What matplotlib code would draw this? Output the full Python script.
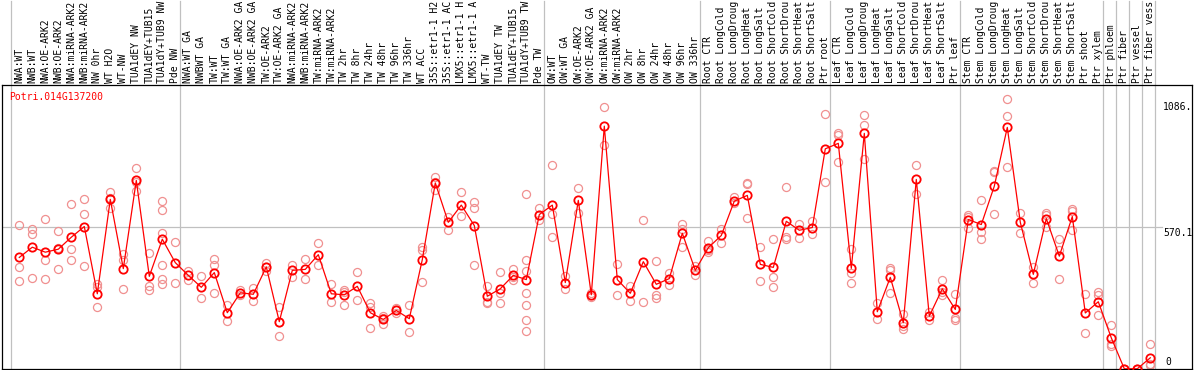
import matplotlib
matplotlib.use("Agg")
import matplotlib.pyplot as plt
import matplotlib.transforms as mtransforms

# sample labels (as shown, cut at the top edge)
labels = [
    "NWA:WT", "NWB:WT", "NWA:OE-ARK2", "NWB:OE-ARK2", "NWA:miRNA-ARK2", "NWB:miRNA-ARK2",
    "NW 0hr", "WT H2O", "WT-NW", "TUA1dEY NW", "TUA1dEY+TUB15", "TUA1dY+TUB9 NW", "Pde NW",
    "NWA:WT GA", "NWBWT GA", "TW:WT", "TW:WT GA", "NWA:OE-ARK2 GA", "NWB:OE-ARK2 GA",
    "TW:OE-ARK2", "TW:OE-ARK2 GA", "NWA:miRNA-ARK2", "NWB:miRNA-ARK2", "TW:miRNA-ARK2",
    "TW:miRNA-ARK2", "TW 2hr", "TW 8hr", "TW 24hr", "TW 48hr", "TW 96hr", "TW 336hr",
    "WT ACC", "35S::etr1-1 H2", "35S::etr1-1 AC", "LMX5::etr1-1 H", "LMX5::etr1-1 A",
    "WT-TW", "TUA1dEY TW", "TUA1dEY+TUB15", "TUA1dY+TUB9 TW", "Pde TW",
    "OW:WT", "OW:WT GA", "OW:OE-ARK2", "OW:OE-ARK2 GA", "OW:miRNA-ARK2", "OW:miRNA-ARK2",
    "OW 2hr", "OW 8hr", "OW 24hr", "OW 48hr", "OW 96hr", "OW 336hr",
    "Root CTR", "Root LongCold", "Root LongDroug", "Root LongHeat", "Root LongSalt",
    "Root ShortCold", "Root ShortDrou", "Root ShortHeat", "Root ShortSalt", "Ptr root",
    "Leaf CTR", "Leaf LongCold", "Leaf LongDroug", "Leaf LongHeat", "Leaf LongSalt",
    "Leaf ShortCold", "Leaf ShortDrou", "Leaf ShortHeat", "Leaf ShortSalt", "Ptr leaf",
    "Stem CTR", "Stem LongCold", "Stem LongDroug", "Stem LongHeat", "Stem LongSalt",
    "Stem ShortCold", "Stem ShortDrou", "Stem ShortHeat", "Stem ShortSalt",
    "Ptr shoot", "Ptr xylem", "Ptr phloem", "Ptr fiber", "Ptr vessel", "Ptr fiber vess",
]

# mean expression per sample
means = [
    448, 489, 469, 481, 529, 572, 302, 681, 403, 757, 372, 521, 427,
    376, 328, 387, 226, 306, 300, 410, 190, 396, 400, 459, 302, 298, 332, 226, 199,
    235, 202, 439, 747, 589, 658, 576, 292, 322, 376, 359, 620,
    658, 347, 677, 298, 975, 359, 304, 431, 340, 363, 545, 396,
    487, 536, 674, 697, 420, 408, 593, 557, 568, 884,
    906, 404, 946, 230, 368, 186, 761, 212, 322, 239,
    600, 580, 734, 970, 589, 380, 604, 453, 612, 225, 270,
    125, 1, 1, 45,
]

# individual replicates per sample
replicates = [
    [580, 411, 355], [564, 540, 364], [601, 436, 360], [553, 487, 403], [664, 481, 436],
    [681, 624, 412], [343, 329, 250], [710, 685, 648], [463, 436, 320], [805, 752, 714],
    [467, 333, 319], [674, 640, 545, 419, 360, 343], [508, 347],
    [393, 356], [372, 284], [440, 419, 306], [258, 194], [316, 296], [325, 274],
    [426, 410, 395], [250, 189, 131], [419, 369], [440, 360], [504, 419], [341, 270],
    [319, 309, 258], [391, 278], [265, 249, 166], [211, 203, 182], [245, 235, 226],
    [255, 147], [490, 478, 351], [772, 750, 718], [611, 560], [709, 616],
    [669, 648, 416], [332, 269, 265], [391, 305, 266], [400, 369, 359],
    [702, 439, 392, 306, 255, 198, 151], [648, 597],
    [821, 624, 529], [373, 323], [725, 628], [305, 291], [1052, 899], [423, 297],
    [332, 274], [597, 267], [432, 297, 285], [385, 339], [581, 563, 491], [412, 376],
    [514, 476, 471], [562, 504], [689, 665], [745, 741, 605], [489, 355],
    [521, 371, 331], [729, 530, 521], [581, 525], [595, 544], [1022, 749],
    [948, 939, 833], [481, 385, 345], [1020, 979, 843], [263, 202], [404, 397, 304],
    [219, 171, 162], [821, 702], [227, 195], [359, 310, 298], [302, 204, 195],
    [617, 610, 568], [677, 549, 520], [795, 792, 622], [1086, 1016, 809], [627, 545],
    [410, 344], [625, 617, 570], [520, 479, 360], [643, 633, 560], [301, 143],
    [309, 298, 215], [178, 99, 93], [2, 1, 0], [2, 1, 0], [99, 20, 17],
]

# first sample index of each group (vertical separators)
group_starts = [0, 13, 41, 53, 63, 73, 84, 85, 86, 87, 88]

gene = "Potri.014G137200"
y_max = 1140.2
y_mid = 570.1

W, H = 1194, 370
fig = plt.figure(figsize=(W / 100, H / 100), dpi=100)
ax = fig.add_axes([2 / W, 1 / H, 1190 / W, 284 / H])

mono = "DejaVu Sans Mono"
fs = 7

# pixel layout: first sample at 19.3 px, 13 px per sample
x0_px, step = 19.3, 13.0
ax.set_xlim(-(x0_px - 2) / step, -(x0_px - 2) / step + 1190 / step)
ax.set_ylim(0, y_max)

for s in ax.spines.values():
    s.set_color("black")
    s.set_linewidth(0.9)
ax.set_xticks([])
ax.set_yticks([])

grey = "#c0c0c0"
ax.axhline(y_mid, xmin=0, xmax=(1162 - 2) / 1190, color=grey, lw=0.9, zorder=1)
for g in group_starts:
    ax.axvline(g - 0.62, ymin=0, ymax=368 / 284, color=grey, lw=0.9,
               clip_on=False, zorder=1)

xs = list(range(len(labels)))
for i, reps in enumerate(replicates):
    ax.plot([i] * len(reps), reps, linestyle="none", marker="o", ms=5.8,
            mfc="none", mec="#f09090", mew=0.9, zorder=2)

ax.plot(xs, means, color="red", lw=0.9, zorder=3)
ax.plot(xs, means, linestyle="none", marker="o", ms=6.0, mfc="none",
        mec="red", mew=1.3, zorder=4)

trans = mtransforms.blended_transform_factory(ax.transData, ax.transAxes)
for i, lab in enumerate(labels):
    ax.text(i, 1 + 2 / 284, lab, transform=trans, rotation=90, ha="center",
            va="bottom", fontsize=fs, family=mono, color="black", clip_on=False)

fig.text(9 / W, 1 - 97 / H, gene, color="red", fontsize=fs, family=mono,
         ha="left", va="center")

fig.text(1163 / W, 1 - 107 / H, "1086.", fontsize=fs, family=mono,
         ha="left", va="center")
fig.text(1163 / W, 1 - 233 / H, f"{y_mid:.1f}", fontsize=fs, family=mono,
         ha="left", va="center")
fig.text(1165 / W, 1 - 362 / H, "0", fontsize=fs, family=mono,
         ha="left", va="center")

fig.savefig("out.png", dpi=100)
